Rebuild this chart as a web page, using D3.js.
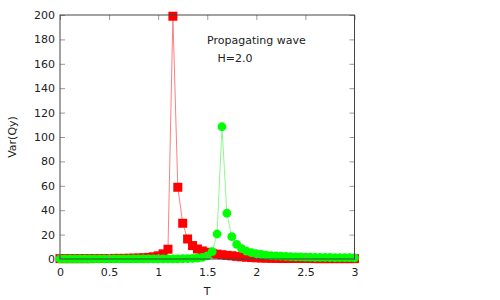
<html>
<head>
<meta charset="UTF-8">
<script src="https://cdnjs.cloudflare.com/ajax/libs/d3/7.8.5/d3.min.js"></script>
<style>
  body { margin: 0; background: #fff; }
  text { font-family: "DejaVu Sans", sans-serif; font-size: 11px; fill: #222; }
</style>
</head>
<body>
<svg width="500" height="300"></svg>
<script>
// temperature points
const T = [0.00,0.05,0.10,0.15,0.20,0.25,0.30,0.35,0.40,0.45,
           0.50,0.55,0.60,0.65,0.70,0.75,0.80,0.85,0.90,0.95,
           1.00,1.05,1.10,1.15,1.20,1.25,1.30,1.35,1.40,1.45,
           1.50,1.55,1.60,1.65,1.70,1.75,1.80,1.85,1.90,1.95,
           2.00,2.05,2.10,2.15,2.20,2.25,2.30,2.35,2.40,2.45,
           2.50,2.55,2.60,2.65,2.70,2.75,2.80,2.85,2.90,2.95,3.00];
// red squares
const varRed = [0.3,0.3,0.3,0.3,0.3,0.3,0.3,0.4,0.4,0.4,
                0.4,0.5,0.5,0.5,0.6,0.7,0.8,1.0,1.3,1.8,
                2.6,4.2,8.0,199,58.8,29.3,16.4,11.0,8.2,6.6,
                5.5,4.7,4.0,3.5,3.0,2.6,2.2,1.8,1.5,1.2,
                1.0,0.8,0.7,0.6,0.5,0.4,0.4,0.4,0.4,0.4,
                0.4,0.4,0.3,0.3,0.3,0.3,0.3,0.3,0.3,0.3,0.3];
// green circles
const varGreen = [0.1,0.1,0.1,0.1,0.1,0.1,0.1,0.1,0.1,0.1,
                  0.1,0.1,0.1,0.1,0.1,0.1,0.1,0.1,0.1,0.1,
                  0.1,0.1,0.1,0.1,0.1,0.2,0.3,0.5,0.8,1.3,
                  2.5,6.0,20.5,108.4,37.5,18.3,12.0,8.5,6.5,5.2,
                  4.3,3.7,3.2,2.8,2.5,2.3,2.1,1.9,1.8,1.7,
                  1.6,1.5,1.4,1.35,1.3,1.25,1.2,1.15,1.1,1.05,1.0];
const xTicks = [0, 0.5, 1, 1.5, 2, 2.5, 3];
const yTicks = [0, 20, 40, 60, 80, 100, 120, 140, 160, 180, 200];

const svg = d3.select("svg");
const x = d3.scaleLinear().domain([0, 3]).range([60, 354.5]);
const y = d3.scaleLinear().domain([0, 200]).range([259, 15]);

function series(vals, lineCol, col, shape) {
  const pts = T.map((t, i) => [t, vals[i]]);
  svg.append("path")
    .attr("d", d3.line().x(d => x(d[0])).y(d => y(d[1]))(pts))
    .attr("fill", "none").attr("stroke", lineCol).attr("stroke-width", 1);
  const g = svg.append("g").attr("fill", col);
  if (shape == "square") {
    g.selectAll("rect").data(pts).enter().append("rect")
      .attr("x", d => x(d[0]) - 4.5).attr("y", d => y(d[1]) - 4.5)
      .attr("width", 9).attr("height", 9);
  } else {
    g.selectAll("circle").data(pts).enter().append("circle")
      .attr("cx", d => x(d[0])).attr("cy", d => y(d[1])).attr("r", 4.4);
  }
}
series(varRed, "#ff8080", "#ff0000", "square");
series(varGreen, "#90f890", "#00ff00", "circle");

// axes (ticks inward, mirrored)
const ax = svg.append("g");
ax.append("g").attr("transform", "translate(0,259)")
  .call(d3.axisBottom(x).tickValues(xTicks).tickSize(-5).tickSizeOuter(0).tickPadding(9).tickFormat(d3.format("")));
ax.append("g").attr("transform", "translate(0,15)")
  .call(d3.axisTop(x).tickValues(xTicks).tickSize(-5).tickSizeOuter(0).tickFormat(""));
ax.append("g").attr("transform", "translate(60,0)")
  .call(d3.axisLeft(y).tickValues(yTicks).tickSize(-5).tickSizeOuter(0).tickPadding(5));
ax.append("g").attr("transform", "translate(354.5,0)")
  .call(d3.axisRight(y).tickValues(yTicks).tickSize(-5).tickSizeOuter(0).tickFormat(""));
ax.selectAll(".domain").remove();
ax.selectAll(".tick line").attr("stroke", "#999");
ax.selectAll("text").attr("font-family", "DejaVu Sans, sans-serif").attr("font-size", 11).attr("fill", "#222");

svg.append("rect")
  .attr("x", x(0)).attr("y", y(200))
  .attr("width", x(3) - x(0)).attr("height", y(0) - y(200))
  .attr("fill", "none").attr("stroke", "#444").attr("stroke-width", 1);

svg.append("text").attr("x", 207).attr("y", 44).text("Propagating wave");
svg.append("text").attr("x", 217.5).attr("y", 62).text("H=2.0");
svg.append("text").attr("x", 207).attr("y", 295).attr("text-anchor", "middle").text("T");
svg.append("text").attr("transform", "translate(16,137) rotate(-90)")
  .attr("text-anchor", "middle").text("Var(Qy)");
</script>
</body>
</html>
